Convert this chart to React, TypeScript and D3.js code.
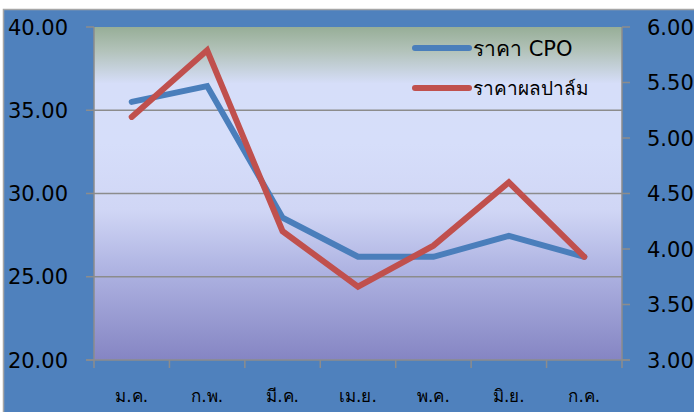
import React from "react";
import * as d3 from "d3";

const categories = ["ม.ค.", "ก.พ.", "มี.ค.", "เม.ย.", "พ.ค.", "มิ.ย.", "ก.ค."];
const cpoValues = [35.5, 36.45, 28.55, 26.2, 26.2, 27.45, 26.2];
const palmValues = [5.19, 5.79, 4.16, 3.66, 4.03, 4.6, 3.93];
const leftTicks = [20, 25, 30, 35, 40];
const rightTicks = [3, 3.5, 4, 4.5, 5, 5.5, 6];
const seriesNames = ["ราคา CPO", "ราคาผลปาล์ม"];

const W = 694;
const H = 412;
const plot = { left: 94, right: 622, top: 27, bottom: 360 };
const FONT = "'DejaVu Sans', 'Noto Sans', sans-serif";

export default function App() {
  const x = d3
    .scaleBand<string>()
    .domain(categories)
    .range([plot.left, plot.right])
    .padding(0);
  const yL = d3.scaleLinear().domain([20, 40]).range([plot.bottom, plot.top]);
  const yR = d3.scaleLinear().domain([3, 6]).range([plot.bottom, plot.top]);
  const cx = (c: string) => (x(c) as number) + x.bandwidth() / 2;

  const lineL = d3
    .line<number>()
    .x((_, i) => cx(categories[i]))
    .y((d) => yL(d));
  const lineR = d3
    .line<number>()
    .x((_, i) => cx(categories[i]))
    .y((d) => yR(d));

  const grid = "#8c8c8c";
  const boundaries = categories.map((c) => x(c) as number).concat([plot.right]);

  return (
    <svg
      width={W}
      height={H}
      style={{ position: "absolute", left: 0, top: 0, display: "block" }}
      fontFamily={FONT}
    >
      <defs>
        <linearGradient id="plotBg" x1="0" y1="0" x2="0" y2="1">
          <stop offset="0" stopColor="#97ae97" />
          <stop offset="0.07" stopColor="#b2c2b9" />
          <stop offset="0.17" stopColor="#d6def9" />
          <stop offset="0.35" stopColor="#d6defa" />
          <stop offset="0.55" stopColor="#d0d6f5" />
          <stop offset="0.72" stopColor="#b0b5e3" />
          <stop offset="1" stopColor="#8585c3" />
        </linearGradient>
      </defs>
      <rect x={0} y={0} width={W} height={H} fill="#ffffff" />
      <rect
        x={3.5}
        y={9.5}
        width={W + 10}
        height={H + 10}
        fill="#4f81bd"
        stroke="#a6a6a6"
        strokeWidth={1.5}
      />
      <rect
        x={plot.left}
        y={plot.top}
        width={plot.right - plot.left}
        height={plot.bottom - plot.top}
        fill="url(#plotBg)"
      />
      {leftTicks.map((t) => (
        <g key={"gl" + t}>
          {t !== 20 && t !== 40 && (
            <line
              x1={plot.left}
              x2={plot.right}
              y1={yL(t)}
              y2={yL(t)}
              stroke={grid}
              strokeWidth={1.5}
            />
          )}
          <line x1={plot.left - 8} x2={plot.left} y1={yL(t)} y2={yL(t)} stroke={grid} strokeWidth={1.5} />
          <text
            x={68}
            y={yL(t)}
            dy="0.36em"
            textAnchor="end"
            fontSize={21}
            fill="#000"
          >
            {t.toFixed(2)}
          </text>
        </g>
      ))}
      {rightTicks.map((t) => (
        <g key={"gr" + t}>
          <line x1={plot.right} x2={plot.right + 8} y1={yR(t)} y2={yR(t)} stroke={grid} strokeWidth={1.5} />
          <text x={647} y={yR(t)} dy="0.36em" textAnchor="start" fontSize={21} fill="#000">
            {t.toFixed(2)}
          </text>
        </g>
      ))}
      <line x1={plot.left} x2={plot.left} y1={plot.top} y2={plot.bottom} stroke={grid} strokeWidth={1.5} />
      <line x1={plot.right} x2={plot.right} y1={plot.top} y2={plot.bottom} stroke={grid} strokeWidth={1.5} />
      <line x1={plot.left - 8} x2={plot.right + 8} y1={plot.bottom} y2={plot.bottom} stroke={grid} strokeWidth={1.5} />
      {boundaries.map((b, i) => (
        <line key={"bt" + i} x1={b} x2={b} y1={plot.bottom} y2={plot.bottom + 8} stroke={grid} strokeWidth={1.5} />
      ))}
      {categories.map((c) => (
        <text key={c} x={cx(c)} y={396} dy="0.36em" textAnchor="middle" fontSize={17} fill="#000">
          {c}
        </text>
      ))}
      <path
        d={lineL(cpoValues) || ""}
        fill="none"
        stroke="#4a7ebb"
        strokeWidth={6}
        strokeLinejoin="miter"
        strokeLinecap="round"
      />
      <path
        d={lineR(palmValues) || ""}
        fill="none"
        stroke="#c0504d"
        strokeWidth={6}
        strokeLinejoin="miter"
        strokeLinecap="round"
      />
      <g>
        <line x1={415} x2={469} y1={48} y2={48} stroke="#4a7ebb" strokeWidth={6} strokeLinecap="round" />
        <text x={473} y={48} dy="0.36em" fontSize={21} fill="#000">
          {seriesNames[0]}
        </text>
        <line x1={415} x2={469} y1={88} y2={88} stroke="#c0504d" strokeWidth={6} strokeLinecap="round" />
        <text x={473} y={88} dy="0.36em" fontSize={19} fill="#000">
          {seriesNames[1]}
        </text>
      </g>
    </svg>
  );
}
